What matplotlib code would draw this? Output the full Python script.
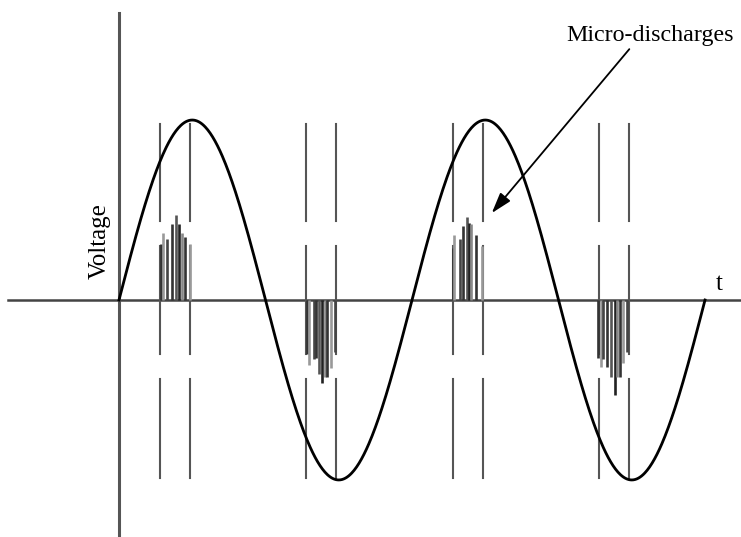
import numpy as np
import matplotlib
matplotlib.use("Agg")
from matplotlib import pyplot

# 位相（度）: 正弦波は 0〜720 度の2周期
phase_end = 720
# 破線の縦線の位置（度）
marker_phase = [50, 87, 230, 267, 410, 447, 590, 627]

# マイクロ放電の位置（度）と高さ（振幅=1）
md1_phase = [51, 54, 59, 65, 70, 74, 77, 81, 87]
md1_height = [0.31, 0.37, 0.34, 0.42, 0.47, 0.42, 0.37, 0.35, 0.31]
md2_phase = [231, 234, 239, 242, 246, 250, 253, 256, 260, 265]
md2_height = [-0.30, -0.36, -0.33, -0.32, -0.41, -0.46, -0.43, -0.43, -0.38, -0.29]
md3_phase = [410, 412, 419, 423, 428, 430, 433, 439, 446]
md3_height = [0.29, 0.36, 0.34, 0.41, 0.46, 0.43, 0.42, 0.36, 0.30]
md4_phase = [589, 592, 595, 600, 604, 609, 612, 615, 619, 624]
md4_height = [-0.32, -0.37, -0.33, -0.37, -0.43, -0.53, -0.43, -0.43, -0.35, -0.29]

md_gray = ["#333333", "#999999", "#444444", "#333333", "#555555",
           "#222222", "#888888", "#333333", "#999999", "#444444"]

pyplot.rcParams['font.family'] = ['Liberation Serif', 'DejaVu Serif']

fig = pyplot.figure(figsize=(7.41, 5.37), dpi=100)
ax = fig.add_axes([0, 0, 1, 1])
ax.set_xlim(-146.2, 764.2)
ax.set_ylim(-1.317, 1.667)
ax.axis("off")

# 座標軸
ax.plot([-136, 764], [0, 0], color="#444444", lw=1.8, zorder=1)
ax.plot([0, 0], [-1.4, 1.594], color="#555555", lw=2.2, zorder=1)

# 破線の縦線（途中に切れ目あり）
for p in marker_phase:
    for y0, y1 in [(0.44, 0.98), (-0.30, 0.30), (-0.99, -0.44)]:
        ax.plot([p, p], [y0, y1], color="#555555", lw=1.5, zorder=2)

# マイクロ放電
for ph, hs in [(md1_phase, md1_height), (md2_phase, md2_height),
               (md3_phase, md3_height), (md4_phase, md4_height)]:
    ax.vlines(ph, 0, hs, colors=md_gray[:len(ph)], lw=1.9, zorder=3)

# 正弦波
t = np.linspace(0, phase_end, 721)
ax.plot(t, np.sin(np.radians(t)), color="black", lw=2, zorder=4)

ax.text(-24, 0.33, "Voltage", rotation=90, fontsize=18,
        ha="center", va="center")
ax.text(738, 0.09, "t", fontsize=18, ha="center", va="center")
ax.text(652, 1.472, "Micro-discharges", fontsize=17.3,
        ha="center", va="center")
ax.annotate("", xy=(458, 0.483), xytext=(627, 1.394),
            arrowprops=dict(arrowstyle="-|>,head_length=0.7,head_width=0.22",
                            color="black", lw=1.3, mutation_scale=18,
                            shrinkA=0, shrinkB=0))

fig.savefig("out.png", dpi=100)
